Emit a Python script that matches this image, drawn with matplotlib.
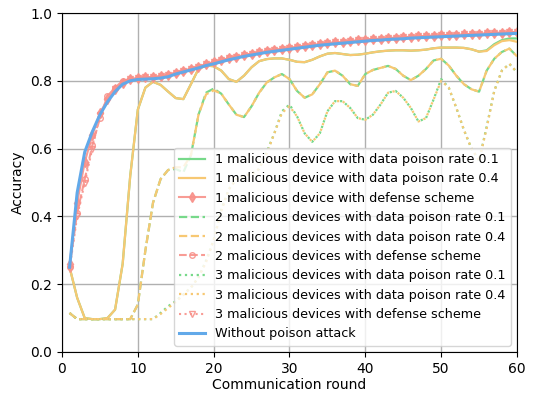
import numpy as np
import matplotlib
matplotlib.use("Agg")
import matplotlib.pyplot as plt

rounds = np.arange(1, 61)

# 1 malicious device
dev1_p01 = [0.25, 0.16, 0.10, 0.097, 0.097, 0.10, 0.125, 0.26, 0.52, 0.715,
            0.78, 0.797, 0.788, 0.768, 0.749, 0.746, 0.79, 0.835, 0.845, 0.843,
            0.83, 0.805, 0.797, 0.815, 0.84, 0.858, 0.864, 0.866, 0.866, 0.862,
            0.856, 0.855, 0.862, 0.872, 0.88, 0.882, 0.879, 0.876, 0.877, 0.88,
            0.884, 0.887, 0.889, 0.89, 0.89, 0.889, 0.89, 0.892, 0.896, 0.898,
            0.898, 0.898, 0.897, 0.893, 0.886, 0.89, 0.908, 0.92, 0.925, 0.925]
dev1_p04 = [0.25, 0.16, 0.10, 0.097, 0.097, 0.10, 0.125, 0.26, 0.52, 0.715,
            0.78, 0.797, 0.788, 0.768, 0.749, 0.746, 0.79, 0.835, 0.845, 0.843,
            0.83, 0.805, 0.797, 0.815, 0.84, 0.858, 0.864, 0.866, 0.866, 0.862,
            0.856, 0.855, 0.862, 0.872, 0.88, 0.882, 0.879, 0.876, 0.877, 0.88,
            0.884, 0.887, 0.889, 0.89, 0.89, 0.889, 0.89, 0.892, 0.896, 0.898,
            0.898, 0.898, 0.897, 0.893, 0.886, 0.888, 0.905, 0.917, 0.92, 0.915]
dev1_def = [0.26, 0.44, 0.56, 0.64, 0.705, 0.745, 0.775, 0.795, 0.805, 0.808,
            0.81, 0.811, 0.813, 0.817, 0.824, 0.83, 0.836, 0.842, 0.849, 0.855,
            0.861, 0.866, 0.871, 0.876, 0.88, 0.884, 0.888, 0.891, 0.894, 0.897,
            0.9, 0.903, 0.906, 0.909, 0.911, 0.913, 0.915, 0.917, 0.919, 0.921,
            0.923, 0.924, 0.926, 0.927, 0.928, 0.93, 0.931, 0.932, 0.933, 0.934,
            0.935, 0.936, 0.937, 0.938, 0.939, 0.94, 0.941, 0.942, 0.943, 0.944]

# 2 malicious devices
dev2_p01 = [0.115, 0.097, 0.097, 0.097, 0.097, 0.097, 0.097, 0.097, 0.097, 0.14,
            0.30, 0.44, 0.51, 0.537, 0.54, 0.53, 0.58, 0.70, 0.765, 0.777,
            0.762, 0.73, 0.70, 0.693, 0.725, 0.765, 0.795, 0.81, 0.82, 0.805,
            0.77, 0.75, 0.76, 0.79, 0.825, 0.83, 0.815, 0.79, 0.785, 0.82,
            0.832, 0.838, 0.844, 0.835, 0.815, 0.802, 0.815, 0.835, 0.86, 0.865,
            0.845, 0.815, 0.79, 0.775, 0.768, 0.83, 0.865, 0.885, 0.895, 0.872]
dev2_p04 = [0.115, 0.097, 0.097, 0.097, 0.097, 0.097, 0.097, 0.097, 0.097, 0.14,
            0.30, 0.44, 0.51, 0.537, 0.545, 0.545, 0.58, 0.70, 0.76, 0.772,
            0.762, 0.73, 0.70, 0.693, 0.725, 0.765, 0.795, 0.81, 0.82, 0.805,
            0.77, 0.75, 0.76, 0.79, 0.825, 0.83, 0.815, 0.79, 0.785, 0.82,
            0.832, 0.838, 0.844, 0.835, 0.815, 0.802, 0.815, 0.835, 0.86, 0.865,
            0.845, 0.815, 0.79, 0.775, 0.768, 0.83, 0.865, 0.885, 0.895, 0.872]
dev2_def = [0.25, 0.41, 0.51, 0.61, 0.69, 0.755, 0.78, 0.80, 0.806, 0.808,
            0.81, 0.811, 0.813, 0.817, 0.824, 0.83, 0.836, 0.842, 0.849, 0.855,
            0.861, 0.866, 0.871, 0.876, 0.88, 0.884, 0.888, 0.891, 0.894, 0.897,
            0.9, 0.903, 0.906, 0.909, 0.911, 0.913, 0.915, 0.917, 0.919, 0.921,
            0.923, 0.924, 0.926, 0.927, 0.928, 0.93, 0.931, 0.932, 0.933, 0.934,
            0.935, 0.936, 0.937, 0.938, 0.939, 0.94, 0.941, 0.942, 0.943, 0.944]

# 3 malicious devices
dev3_p01 = [0.115, 0.097, 0.097, 0.097, 0.097, 0.097, 0.097, 0.097, 0.097, 0.097,
            0.097, 0.097, 0.115, 0.135, 0.15, 0.17, 0.19, 0.22, 0.27, 0.33,
            0.42, 0.48, 0.51, 0.52, 0.525, 0.54, 0.59, 0.645, 0.71, 0.73,
            0.695, 0.645, 0.62, 0.645, 0.71, 0.74, 0.74, 0.72, 0.69, 0.685,
            0.70, 0.73, 0.765, 0.77, 0.75, 0.72, 0.68, 0.69, 0.745, 0.805,
            0.78, 0.72, 0.655, 0.60, 0.565, 0.665, 0.77, 0.83, 0.85, 0.825]
dev3_p04 = [0.115, 0.097, 0.097, 0.097, 0.097, 0.097, 0.097, 0.097, 0.097, 0.097,
            0.097, 0.097, 0.112, 0.13, 0.148, 0.168, 0.19, 0.22, 0.265, 0.33,
            0.415, 0.48, 0.51, 0.52, 0.525, 0.54, 0.585, 0.645, 0.705, 0.725,
            0.695, 0.645, 0.62, 0.645, 0.71, 0.74, 0.74, 0.72, 0.69, 0.685,
            0.70, 0.73, 0.765, 0.77, 0.75, 0.72, 0.68, 0.69, 0.745, 0.80,
            0.78, 0.72, 0.655, 0.60, 0.565, 0.66, 0.77, 0.83, 0.85, 0.825]
dev3_def = [0.245, 0.40, 0.50, 0.60, 0.70, 0.74, 0.775, 0.795, 0.805, 0.808,
            0.81, 0.811, 0.813, 0.817, 0.824, 0.83, 0.836, 0.842, 0.849, 0.855,
            0.861, 0.866, 0.871, 0.876, 0.88, 0.884, 0.888, 0.891, 0.894, 0.897,
            0.9, 0.903, 0.906, 0.909, 0.911, 0.913, 0.915, 0.917, 0.919, 0.921,
            0.923, 0.924, 0.926, 0.927, 0.928, 0.93, 0.931, 0.932, 0.933, 0.934,
            0.935, 0.936, 0.937, 0.938, 0.939, 0.94, 0.941, 0.942, 0.943, 0.944]

no_attack = [0.25, 0.47, 0.59, 0.65, 0.70, 0.738, 0.768, 0.79, 0.80, 0.804,
             0.805, 0.806, 0.808, 0.812, 0.82, 0.826, 0.832, 0.838, 0.845, 0.85,
             0.856, 0.862, 0.867, 0.872, 0.876, 0.88, 0.884, 0.887, 0.89, 0.893,
             0.896, 0.899, 0.902, 0.905, 0.907, 0.909, 0.911, 0.913, 0.915, 0.917,
             0.919, 0.92, 0.922, 0.923, 0.924, 0.926, 0.927, 0.928, 0.929, 0.93,
             0.931, 0.932, 0.933, 0.934, 0.935, 0.936, 0.937, 0.938, 0.939, 0.94]

green = '#77d98a'
orange = '#f7c873'
red = '#f8918a'
blue = '#62a9e9'

fig = plt.figure(figsize=(5.33, 3.99), dpi=100)
ax = fig.add_axes([0.1163, 0.1178, 0.8537, 0.8496])

ax.plot(rounds, dev1_p01, color=green, lw=1.6, label='1 malicious device with data poison rate 0.1')
ax.plot(rounds, dev1_p04, color=orange, lw=1.6, label='1 malicious device with data poison rate 0.4')
ax.plot(rounds, dev1_def, color=red, lw=1.5, marker='d', ms=5, alpha=0.9,
        label='1 malicious device with defense scheme')
ax.plot(rounds, dev2_p01, color=green, lw=1.6, ls='--', label='2 malicious devices with data poison rate 0.1')
ax.plot(rounds, dev2_p04, color=orange, lw=1.6, ls='--', label='2 malicious devices with data poison rate 0.4')
ax.plot(rounds, dev2_def, color=red, lw=1.5, ls='--', marker='o', ms=4, mfc='none', alpha=0.9,
        label='2 malicious devices with defense scheme')
ax.plot(rounds, dev3_p01, color=green, lw=1.6, ls=':', label='3 malicious devices with data poison rate 0.1')
ax.plot(rounds, dev3_p04, color=orange, lw=1.6, ls=':', label='3 malicious devices with data poison rate 0.4')
ax.plot(rounds, dev3_def, color=red, lw=1.5, ls=':', marker='v', ms=4, mfc='none', alpha=0.9,
        label='3 malicious devices with defense scheme')
ax.plot(rounds, no_attack, color=blue, lw=2.2, label='Without poison attack')

ax.set_xlim(0, 60)
ax.set_ylim(0, 1.0)
ax.set_xticks([0, 10, 20, 30, 40, 50, 60])
ax.set_yticks([0.0, 0.2, 0.4, 0.6, 0.8, 1.0])
ax.grid(True, color='#b0b0b0', lw=1)
ax.set_xlabel('Communication round', labelpad=2)
ax.set_ylabel('Accuracy')
ax.legend(loc='lower right', fontsize=9.2, handlelength=2, framealpha=0.8)

fig.savefig('out.png', dpi=100)
